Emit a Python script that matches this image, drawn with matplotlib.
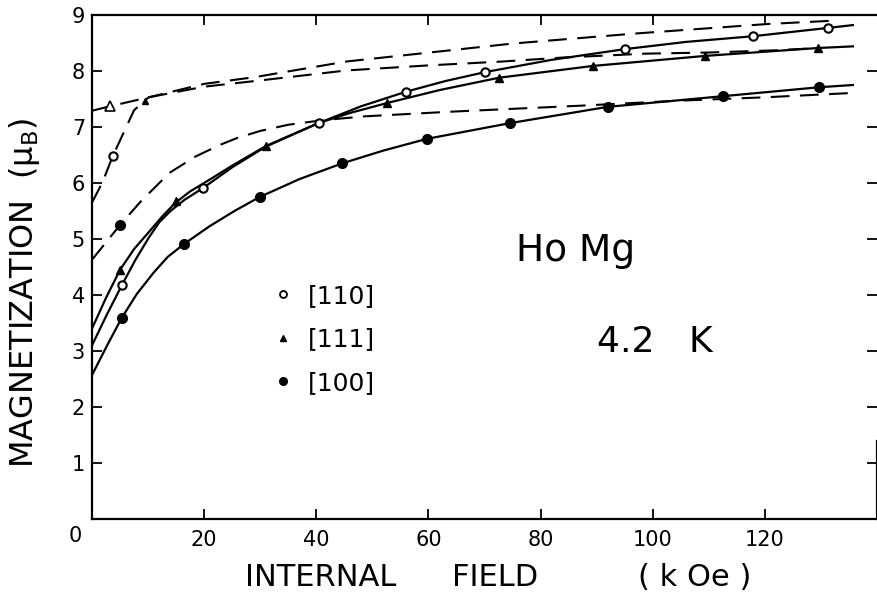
import matplotlib
matplotlib.use('Agg')
import matplotlib.pyplot as plt
from matplotlib.lines import Line2D

plt.rcParams['font.family'] = ['DejaVu Sans']

# 측정점: 내부 자기장 (kOe), 자화 (μB)
h110 = [5.3, 19.8, 40.4, 56.0, 70.1, 95.0, 117.8, 131.3]
m110 = [4.17, 5.91, 7.07, 7.63, 7.98, 8.39, 8.62, 8.77]
h111 = [5.0, 14.9, 31.0, 52.7, 72.6, 89.3, 109.4, 129.4]
m111 = [4.45, 5.67, 6.66, 7.43, 7.88, 8.09, 8.27, 8.41]
h100 = [5.3, 16.4, 29.9, 44.6, 59.8, 74.6, 92.0, 112.5, 129.7]
m100 = [3.59, 4.91, 5.75, 6.35, 6.79, 7.07, 7.36, 7.55, 7.71]

# 측정점을 잇는 실선 곡선
c110_h = [0, 2.6, 5.3, 7.7, 10.1, 12.0, 14.0, 16.5, 19.8, 25.0, 31.0, 40.4, 48.0, 56.0, 63.0, 70.1, 82.0, 95.0, 106.0, 117.8, 131.3, 135.7]
c110_m = [3.10, 3.64, 4.17, 4.62, 5.02, 5.30, 5.50, 5.70, 5.91, 6.28, 6.65, 7.07, 7.37, 7.63, 7.82, 7.98, 8.20, 8.39, 8.52, 8.62, 8.77, 8.82]
c111_h = [0, 2.5, 5.0, 7.5, 10.1, 12.5, 14.9, 17.5, 20.0, 25.0, 31.0, 40.4, 46.0, 52.7, 62.0, 72.6, 89.3, 109.4, 129.4, 135.7]
c111_m = [3.40, 3.95, 4.45, 4.82, 5.12, 5.40, 5.65, 5.85, 6.00, 6.31, 6.66, 7.07, 7.25, 7.43, 7.66, 7.88, 8.09, 8.27, 8.41, 8.44]
c100_h = [0, 2.7, 5.3, 8.0, 11.0, 13.5, 16.4, 21.0, 25.4, 29.9, 37.0, 44.6, 52.0, 59.8, 74.6, 92.0, 112.5, 129.7, 135.7]
c100_m = [2.57, 3.10, 3.59, 4.02, 4.40, 4.68, 4.91, 5.23, 5.50, 5.75, 6.07, 6.35, 6.58, 6.79, 7.07, 7.36, 7.55, 7.71, 7.75]

# 점선 곡선
d110_h = [0, 1.9, 3.7, 7.5, 10.1, 20.0, 29.0, 45.4, 75.0, 97.0, 120.6, 132.5]
d110_m = [5.65, 6.02, 6.48, 7.30, 7.53, 7.77, 7.89, 8.17, 8.49, 8.67, 8.84, 8.90]
d111_h = [0, 3.2, 10.1, 20.0, 29.0, 45.4, 60.0, 73.3, 83.9, 98.8, 110.0, 122.0, 129.4]
d111_m = [7.29, 7.37, 7.53, 7.72, 7.82, 8.01, 8.10, 8.17, 8.24, 8.31, 8.33, 8.37, 8.41]
d100_h = [0, 5.0, 8.6, 13.8, 18.4, 22.8, 25.8, 30.0, 35.0, 41.0, 48.6, 63.3, 87.0, 104.6, 120.0, 136.0]
d100_m = [4.63, 5.25, 5.66, 6.18, 6.47, 6.68, 6.80, 6.93, 7.04, 7.12, 7.19, 7.27, 7.38, 7.47, 7.53, 7.61]

# 점선 위의 저자장 점
low110 = ([3.7], [6.48])
low111 = ([3.2], [7.37])
low111b = ([9.5], [7.47])
low100 = ([5.0], [5.25])

xticks = [20, 40, 60, 80, 100, 120]
yticks = [1, 2, 3, 4, 5, 6, 7, 8, 9]

fig = plt.figure(figsize=(8.78, 5.92), dpi=100)
ax = fig.add_axes([92 / 878, 73 / 592, 785 / 878, 504 / 592])

K = 'black'
solid = dict(color=K, lw=1.6, zorder=2)
dash = dict(color=K, lw=1.5, dashes=(9, 5), zorder=2)

ax.plot(c110_h, c110_m, **solid)
ax.plot(c111_h, c111_m, **solid)
ax.plot(c100_h, c100_m, **solid)
ax.plot(d110_h, d110_m, **dash)
ax.plot(d111_h, d111_m, **dash)
ax.plot(d100_h, d100_m, **dash)

open_c = dict(ls='none', marker='o', ms=6, mfc='white', mec=K, mew=1.5, zorder=3)
fill_t = dict(ls='none', marker='^', ms=6, mfc=K, mec=K, zorder=3)
fill_c = dict(ls='none', marker='o', ms=7, mfc=K, mec=K, zorder=3)

ax.plot(h110, m110, **open_c)
ax.plot(h111, m111, **fill_t)
ax.plot(h100, m100, **fill_c)
ax.plot(*low110, **open_c)
ax.plot(*low111, ls='none', marker='^', ms=6.5, mfc='white', mec=K, mew=1.2, zorder=3)
ax.plot(*low111b, ls='none', marker='^', ms=4.5, mfc=K, mec=K, zorder=3)
ax.plot(*low100, **fill_c)

ax.set_xlim(0, 140)
ax.set_ylim(0, 9)
ax.set_xticks(xticks)
ax.set_xticklabels([str(t) for t in xticks])
ax.set_yticks(yticks)
ax.set_yticklabels([str(t) for t in yticks])

ax.tick_params(direction='in', length=7, width=1.3, top=True, right=True,
               labelsize=15, colors=K)
ax.tick_params(axis='x', pad=8)
ax.tick_params(axis='y', pad=5)
for s in ['left', 'bottom', 'top', 'right']:
    ax.spines[s].set_linewidth(1.6)
ax.spines['right'].set_bounds(0, 1.4)

ax.text(-2.9, -0.3, '0', ha='center', va='center', fontsize=15, clip_on=False)

# 범례
handles = [
    Line2D([], [], ls='none', marker='o', ms=5, mfc='white', mec=K, mew=1.3),
    Line2D([], [], ls='none', marker='^', ms=5, mfc=K, mec=K),
    Line2D([], [], ls='none', marker='o', ms=5.5, mfc=K, mec=K),
]
ax.legend(handles, ['[110]', '[111]', '[100]'], loc='upper left',
          bbox_to_anchor=(0.230, 0.466), frameon=False, fontsize=18,
          handlelength=0.8, handletextpad=0.6, labelspacing=0.77,
          borderpad=0, borderaxespad=0)

ax.text(75.6, 4.61, 'Ho Mg', fontsize=27, va='baseline', ha='left')
ax.text(90.1, 2.98, '4.2   K', fontsize=26, va='baseline', ha='left')

fig.text(25 / 878, 1 - 293 / 592, 'MAGNETIZATION  (μ$_\\mathrm{B}$)',
         rotation=90, ha='center', va='center', fontsize=23)
fig.text(245 / 878, 6 / 592, 'INTERNAL', fontsize=22, va='baseline')
fig.text(452 / 878, 6 / 592, 'FIELD', fontsize=22, va='baseline')
fig.text(638 / 878, 6 / 592, '( k Oe )', fontsize=22, va='baseline')

fig.savefig('out.png', dpi=100, facecolor='white')
